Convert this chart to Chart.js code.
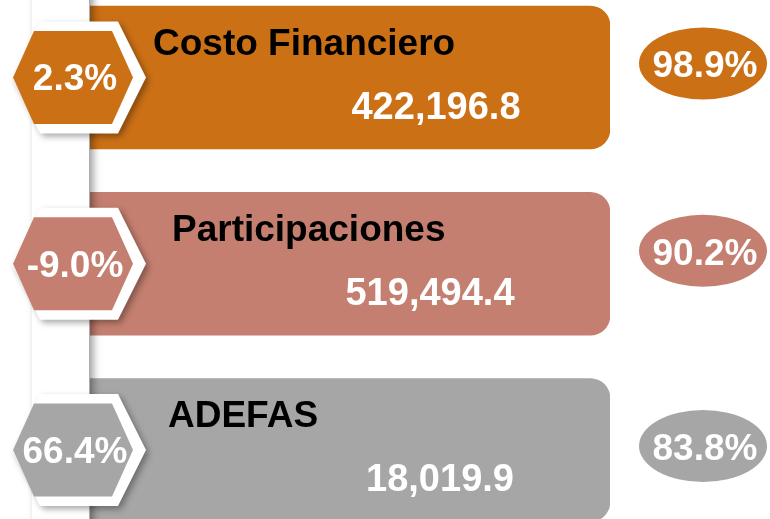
<!DOCTYPE html>
<html><head><meta charset="utf-8">
<script src="https://cdn.jsdelivr.net/npm/chart.js@4/dist/chart.umd.min.js"></script>
<style>html,body{margin:0;padding:0;background:#fff;overflow:hidden}</style>
</head><body>
<canvas id="c" width="770" height="519"></canvas>
<script>
// ---- data ----
const categories = ['Costo Financiero', 'Participaciones', 'ADEFAS'];
const amounts = [422196.8, 519494.4, 18019.9];
const growth = [2.3, -9.0, 66.4];
const share = [98.9, 90.2, 83.8];

// ---- styles / layout ----
const colors = ['#CC7016', '#C47F70', '#A6A6A6'];
const titleDx = [63, 82, 78];
const valueDx = [346, 340, 350];
const ellipseDy = [-14, -13, -4];
const FONT = '"Liberation Sans", Arial, sans-serif';

function hexPath(ctx, cx, cy, hw, ht, hh) {
  ctx.beginPath();
  ctx.moveTo(cx - hw, cy);
  ctx.lineTo(cx - ht, cy - hh);
  ctx.lineTo(cx + ht, cy - hh);
  ctx.lineTo(cx + hw, cy);
  ctx.lineTo(cx + ht, cy + hh);
  ctx.lineTo(cx - ht, cy + hh);
  ctx.closePath();
}
const fmtAmount = v => v.toLocaleString('en-US', {minimumFractionDigits: 1, maximumFractionDigits: 1});
const fmtPct = v => v.toFixed(1) + '%';

const decor = {
  id: 'decor',
  afterDatasetsDraw(chart) {
    const ctx = chart.ctx;
    const left = chart.chartArea.left;
    // white connector strip (on top of bars, casting a shadow)
    ctx.save();
    ctx.shadowColor = 'rgba(0,0,0,0.4)';
    ctx.shadowBlur = 8;
    ctx.shadowOffsetX = 4;
    ctx.fillStyle = '#fff';
    ctx.fillRect(left - 58, -30, 57, chart.height + 60);
    ctx.restore();

    const bars = chart.getDatasetMeta(0).data;
    bars.forEach((bar, i) => {
      const base = bar.base, right = bar.x, cy = bar.y, top = bar.y - bar.height / 2;
      const hx = base - 17;
      // white hexagon frame with shadow
      ctx.save();
      ctx.shadowColor = 'rgba(0,0,0,0.35)';
      ctx.shadowBlur = 6;
      ctx.shadowOffsetX = 3;
      ctx.shadowOffsetY = 3;
      ctx.fillStyle = '#fff';
      hexPath(ctx, hx + 6, cy, 67, 39, 56);
      ctx.fill();
      ctx.restore();
      // coloured hexagon
      ctx.save();
      ctx.fillStyle = colors[i];
      hexPath(ctx, hx, cy, 60, 39, 46.5);
      ctx.fill();
      ctx.fillStyle = '#fff';
      ctx.font = 'bold 37px ' + FONT;
      ctx.textAlign = 'center';
      ctx.textBaseline = 'alphabetic';
      ctx.fillText(fmtPct(growth[i]), hx + 2, cy + 13, 114);
      // title
      ctx.fillStyle = '#000';
      ctx.font = 'bold 37px ' + FONT;
      ctx.textAlign = 'left';
      ctx.fillText(categories[i], base + titleDx[i], top + 49);
      // amount
      ctx.fillStyle = '#fff';
      ctx.font = 'bold 38px ' + FONT;
      ctx.textAlign = 'center';
      ctx.fillText(fmtAmount(amounts[i]), base + valueDx[i], top + 113);
      // ellipse with share
      const ex = right + 93, ey = cy + ellipseDy[i];
      ctx.fillStyle = colors[i];
      ctx.beginPath();
      ctx.ellipse(ex, ey, 64, 36, 0, 0, Math.PI * 2);
      ctx.fill();
      ctx.fillStyle = '#fff';
      ctx.font = 'bold 37px ' + FONT;
      ctx.fillText(fmtPct(share[i]), ex + 2, ey + 14);
      ctx.restore();
    });
  }
};

new Chart(document.getElementById('c'), {
  type: 'bar',
  data: {
    datasets: [{
      label: 'Monto',
      data: categories.map((c, i) => ({x: 1, y: i})),
      backgroundColor: colors,
      borderRadius: 20,
      borderSkipped: 'start',
      barThickness: 143
    }]
  },
  options: {
    indexAxis: 'y',
    responsive: false,
    animation: false,
    layout: {padding: {left: 90, right: 160, top: 0, bottom: 0}},
    scales: {
      x: {type: 'linear', min: 0, max: 1, display: false},
      y: {type: 'linear', min: -0.4161, max: 2.3705, reverse: true, offset: false, display: false}
    },
    plugins: {legend: {display: false}, tooltip: {enabled: false}}
  },
  plugins: [decor]
});
</script>
</body></html>
